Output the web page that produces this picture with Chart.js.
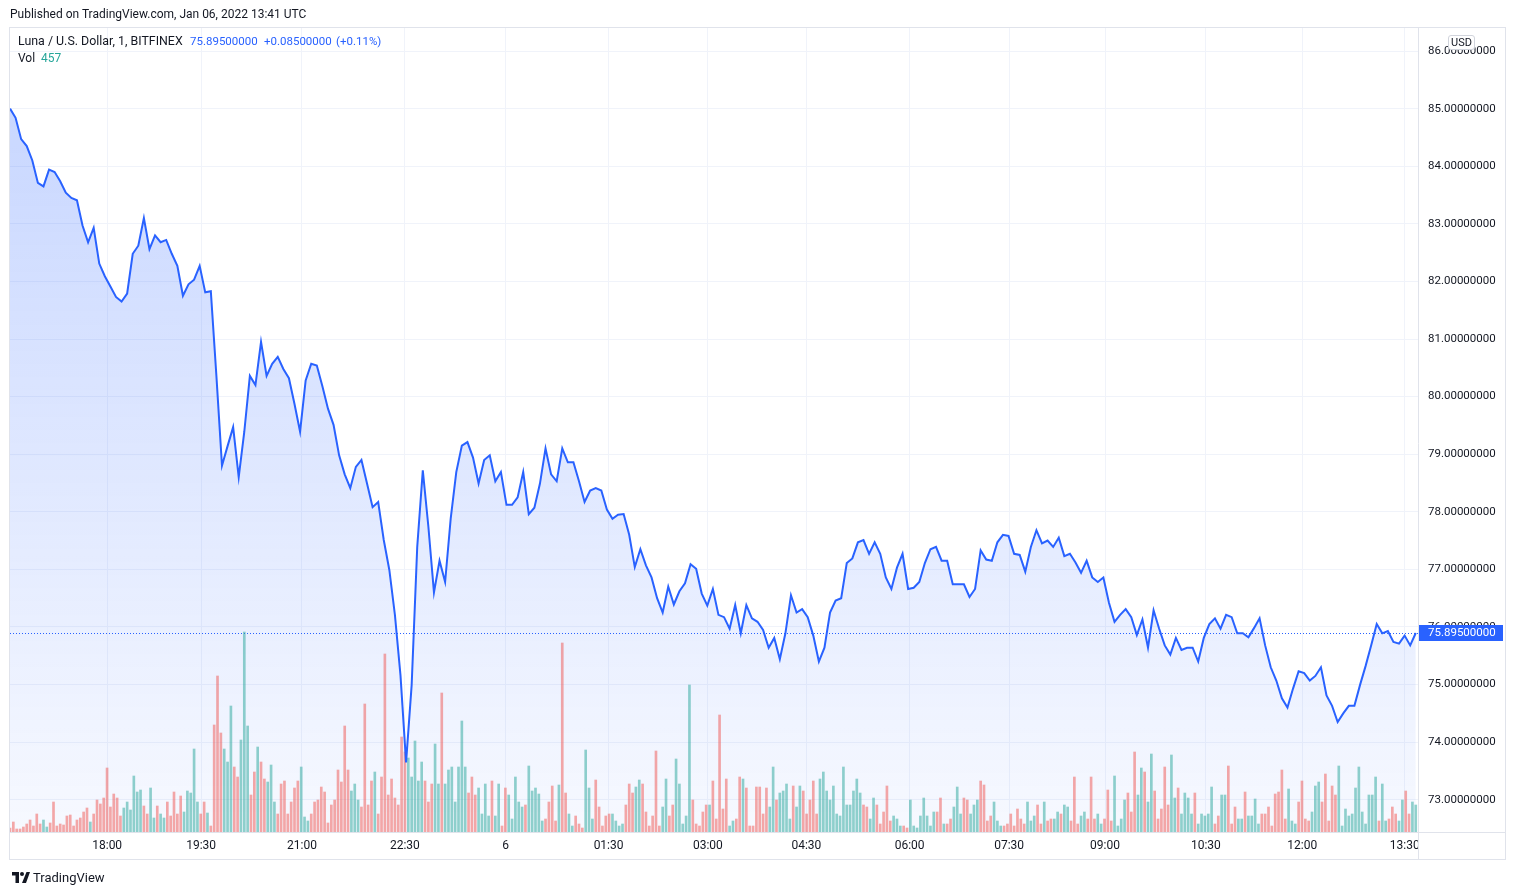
<!DOCTYPE html>
<html>
<head>
<meta charset="utf-8">
<script src="https://cdn.jsdelivr.net/npm/chart.js@4"></script>
<style>
  body { margin: 0; background: #fff; font-family: Roboto, sans-serif; color: #131722; }
  #wrap { position: relative; width: 1516px; height: 895px; overflow: hidden; }
  #graph { position: absolute; left: 0; top: 0; }
  .t { position: absolute; white-space: nowrap; font-size: 12px; line-height: 14px; }
  .q { color: #2962ff; font-size: 11.5px; }
</style>
</head>
<body>
<div id="wrap">
  <canvas id="graph" width="1516" height="895"></canvas>
  <div class="t" style="left:10px;top:7px">Published on TradingView.com, Jan 06, 2022 13:41 UTC</div>
  <div class="t" style="left:18px;top:34px;font-size:12.4px">Luna / U.S. Dollar, 1, BITFINEX</div>
  <div class="t q" id="qPrice" style="left:190px;top:34px"></div>
  <div class="t q" id="qChange" style="left:264px;top:34px"></div>
  <div class="t q" id="qPct" style="left:336px;top:34px"></div>
  <div class="t" style="left:18px;top:51px">Vol&nbsp; <span id="vol" style="color:#26a69a"></span></div>
  <div class="t" style="left:1448px;top:35px;border:1px solid #d1d4dc;border-radius:3px;padding:0 2px;background:#fff;font-size:11px;line-height:13px">USD</div>
  <div class="t" style="left:12px;top:870px;font-size:13px;line-height:15px">
    <svg width="18" height="11" viewBox="0 0 36 22" style="vertical-align:-1px"><path d="M14 22H7V7H0V0h14v22zM28 22h-8L29 0h7L28 22z" fill="#131722"/><circle cx="20" cy="4" r="4" fill="#131722"/></svg>
    TradingView
  </div>
</div>

<script>
// LUNA/USD 1 min, Bitfinex. one price every 5 bars, one volume every 3 bars (bar 0 = 16:33)
const priceStep = 5;
const volStep = 3;

const prices = [
    85.00, 84.84, 84.47, 84.35, 84.10, 83.71, 83.65, 83.94, 83.90, 83.74, 83.54, 83.45, 83.41, 82.97, 82.68, 82.93,
    82.31, 82.09, 81.91, 81.73, 81.65, 81.79, 82.48, 82.62, 83.10, 82.56, 82.80, 82.68, 82.72, 82.48, 82.27, 81.75,
    81.95, 82.03, 82.27, 81.81, 81.83, 80.36, 78.80, 79.14, 79.47, 78.60, 79.39, 80.36, 80.20, 80.95, 80.36, 80.57,
    80.69, 80.48, 80.32, 79.87, 79.39, 80.28, 80.57, 80.54, 80.18, 79.79, 79.51, 78.98, 78.65, 78.41, 78.78,
    78.90, 78.49, 78.08, 78.17, 77.51, 76.99, 76.21, 75.16, 73.65, 74.99, 77.39, 78.72, 77.74, 76.60, 77.15, 76.78,
    77.88, 78.69, 79.15, 79.21, 78.94, 78.49, 78.90, 78.98, 78.53, 78.69, 78.12, 78.12, 78.25, 78.69, 77.96, 78.07,
    78.49, 79.10, 78.65, 78.53, 79.10, 78.86, 78.86, 78.53, 78.17, 78.37, 78.41, 78.37, 78.04, 77.88, 77.95, 77.96,
    77.60, 77.04, 77.35, 77.07, 76.86, 76.50, 76.25, 76.70, 76.39, 76.62, 76.76, 77.09, 77.01, 76.58, 76.37, 76.66,
    76.21, 76.17, 75.97, 76.38, 75.89, 76.38, 76.15, 76.09, 75.95, 75.64, 75.81, 75.44, 75.89, 76.55, 76.25, 76.31,
    76.17, 75.85, 75.40, 75.64, 76.25, 76.46, 76.50, 77.11, 77.19, 77.47, 77.51, 77.27, 77.47, 77.27, 76.86,
    76.66, 77.03, 77.27, 76.66, 76.68, 76.78, 77.11, 77.35, 77.39, 77.15, 77.15, 76.74, 76.74, 76.74, 76.52, 76.66,
    77.33, 77.17, 77.15, 77.47, 77.60, 77.58, 77.27, 77.25, 76.96, 77.39, 77.68, 77.45, 77.50, 77.39, 77.55, 77.23,
    77.27, 77.12, 76.94, 77.15, 76.86, 76.78, 76.86, 76.42, 76.09, 76.21, 76.31, 76.17, 75.86, 76.13, 75.64, 76.29,
    75.97, 75.68, 75.52, 75.81, 75.60, 75.64, 75.64, 75.40, 75.81, 76.05, 76.15, 75.97, 76.21, 76.17, 75.89,
    75.89, 75.82, 75.98, 76.15, 75.68, 75.30, 75.07, 74.76, 74.60, 74.93, 75.23, 75.20, 75.07, 75.15, 75.30, 74.81,
    74.63, 74.35, 74.50, 74.63, 74.63, 74.99, 75.32, 75.68, 76.05, 75.89, 75.93, 75.74, 75.71, 75.85, 75.68, 75.895
];

const volumes = [
    4, 10, 3, 3, 5, 8, 12, 6, 18, 8, 12, 5, 9, 30, 6, 8, 7, 16, 17, 6, 12, 14, 20, 24, 10, 18, 32, 28, 34, 64,
    25, 38, 34, 16, 24, 30, 22, 56, 40, 42, 26, 18, 44, 14, 26, 18, 14, 30, 16, 40, 18, 36, 20,
    41, 39, 83, 30, 18, 30, 19, 6, 107, 156, 99, 83, 70, 126, 65, 55, 92, 200, 106, 37, 60, 85, 70, 53, 50, 67,
    30, 18, 48, 51, 18, 30, 44, 51, 65, 15, 11, 18, 30, 32, 45, 40, 9, 27, 32, 62, 50, 106, 62, 41, 48, 32, 25,
    128, 27, 51, 60, 18, 55, 178, 37, 53, 34, 27, 95, 80, 74, 55, 91, 51, 70, 51, 30, 48, 88, 48, 139, 48, 62,
    65, 30, 65, 111, 65, 39, 55, 37, 44, 18, 48, 16, 51, 16, 48, 6, 44, 37, 13, 55, 30, 25, 27, 66, 41, 44,
    38, 11, 13, 30, 46, 11, 47, 189, 39, 18, 6, 16, 8, 4, 82, 44, 13, 52, 25, 6, 16, 18, 18, 11, 6, 8, 27, 48,
    39, 45, 52, 48, 20, 6, 16, 81, 6, 25, 53, 16, 27, 73, 48, 8, 16, 147, 32, 8, 6, 20, 27, 27, 51,
    13, 117, 23, 53, 6, 11, 13, 55, 53, 44, 6, 6, 45, 45, 18, 44, 25, 65, 32, 39, 41, 48, 13, 46, 25, 46, 41,
    18, 32, 51, 18, 53, 60, 41, 32, 46, 18, 16, 65, 27, 27, 41, 53, 39, 27, 25, 13, 34, 27, 8, 20, 46,
    11, 16, 13, 6, 6, 4, 32, 6, 4, 16, 34, 16, 6, 20, 20, 34, 8, 8, 13, 25, 45, 18, 34, 32, 18, 27, 32, 51,
    47, 11, 16, 30, 11, 6, 6, 8, 18, 6, 23, 13, 8, 30, 11, 16, 27, 8, 30, 11, 13, 13, 20, 18, 27,
    25, 11, 55, 8, 16, 20, 13, 55, 13, 18, 8, 13, 42, 11, 56, 6, 13, 32, 39, 20, 80, 37, 64, 60, 30, 78,
    41, 13, 23, 65, 27, 77, 34, 44, 18, 39, 34, 18, 39, 8, 18, 16, 18, 45, 8, 16, 37, 37, 66, 8, 25, 13,
    13, 40, 16, 16, 33, 8, 18, 18, 25, 6, 38, 40, 62, 13, 43, 11, 8, 30, 51, 13, 11, 20, 46, 50, 30, 58,
    11, 46, 37, 66, 6, 23, 16, 18, 44, 65, 20, 8, 37, 37, 55, 11, 48, 11, 13, 25, 18, 11, 32, 41, 18, 30, 27
];

// bar index of each time label
const tickBars = [87.1, 171.3, 261.7, 353.9, 444.3, 536.5, 625.5, 713.8, 806.3, 895.5, 981.5, 1071.9, 1158.2, 1250.1];
const timeLabels = ["18:00", "19:30", "21:00", "22:30", "6", "01:30", "03:00", "04:30", "06:00", "07:30", "09:00", "10:30", "12:00", "13:30"];
const priceTicks = [73, 74, 75, 76, 77, 78, 79, 80, 81, 82, 83, 84, 85, 86];

const lastPrice = 75.895;
const change = 0.085;
const changePct = 0.11;
const lastVolume = 457;

document.getElementById('qPrice').textContent = lastPrice.toFixed(8);
document.getElementById('qChange').textContent = '+' + change.toFixed(8);
document.getElementById('qPct').textContent = '(+' + changePct.toFixed(2) + '%)';
document.getElementById('vol').textContent = lastVolume;

const blue = '#2962ff';
const up = 'rgba(38,166,154,0.5)';
const down = 'rgba(239,83,80,0.5)';

const volColors = volumes.map((v, i) => {
    let j = Math.min(Math.floor(i * volStep / priceStep), prices.length - 2);
    return prices[j + 1] >= prices[j] ? up : down;
});

const tvExtras = {
    id: 'tvExtras',
    beforeDatasetsDraw(chart) {
        const { ctx, chartArea: a } = chart;
        const y = Math.round(chart.scales.y.getPixelForValue(lastPrice)) + 0.5;
        ctx.save();
        ctx.strokeStyle = blue;
        ctx.lineWidth = 1;
        ctx.setLineDash([1, 2]);
        ctx.beginPath();
        ctx.moveTo(a.left, y);
        ctx.lineTo(a.right, y);
        ctx.stroke();
        ctx.restore();
    },
    afterDraw(chart) {
        const { ctx, chartArea: a } = chart;
        ctx.save();
        // time labels are cut at the price scale
        ctx.fillStyle = '#fff';
        ctx.fillRect(a.right, a.bottom + 1, 1506 - a.right, 27);

        ctx.strokeStyle = '#e0e3eb';
        ctx.lineWidth = 1;
        ctx.strokeRect(9.5, 27.5, 1496, 832);
        ctx.beginPath();
        ctx.moveTo(a.right + 0.5, 27);
        ctx.lineTo(a.right + 0.5, 860);
        ctx.moveTo(10, a.bottom + 0.5);
        ctx.lineTo(1506, a.bottom + 0.5);
        ctx.stroke();

        // last price badge
        const y = chart.scales.y.getPixelForValue(lastPrice);
        ctx.fillStyle = blue;
        ctx.fillRect(a.right + 1, Math.round(y) - 8, 84, 16);
        ctx.fillStyle = '#fff';
        ctx.font = '11.5px Roboto';
        ctx.textBaseline = 'middle';
        ctx.fillText(lastPrice.toFixed(8), a.right + 10, Math.round(y) + 0.5);
        ctx.restore();
    }
};

Chart.defaults.font.family = 'Roboto';
Chart.defaults.color = '#131722';

const graph = document.getElementById('graph');

new Chart(graph, {
    type: 'line',
    data: {
        datasets: [{
            type: 'line',
            data: prices.map((p, i) => ({ x: i * priceStep, y: p })),
            yAxisID: 'y',
            borderColor: blue,
            borderWidth: 2,
            pointRadius: 0,
            tension: 0,
            fill: 'start',
            backgroundColor: (c) => {
                const a = c.chart.chartArea;
                if (!a) return 'rgba(41,98,255,0.15)';
                const g = c.chart.ctx.createLinearGradient(0, a.top, 0, a.bottom);
                g.addColorStop(0, 'rgba(41,98,255,0.28)');
                g.addColorStop(1, 'rgba(41,98,255,0.04)');
                return g;
            },
            order: 0
        }, {
            type: 'bar',
            data: volumes.map((v, i) => ({ x: i * volStep, y: v })),
            yAxisID: 'vol',
            backgroundColor: volColors,
            barThickness: 2,
            order: 1
        }]
    },
    options: {
        responsive: false,
        animation: false,
        layout: { padding: { left: 10, top: 28, right: 10, bottom: 35 } },
        plugins: {
            legend: { display: false },
            tooltip: { enabled: false },
            filler: { drawTime: 'beforeDatasetsDraw' }
        },
        scales: {
            x: {
                type: 'linear',
                min: 0,
                max: 1262,
                offset: false,
                afterBuildTicks: (s) => { s.ticks = tickBars.map(v => ({ value: v })); },
                afterFit: (s) => { s.height = 28; },
                ticks: {
                    autoSkip: false,
                    maxRotation: 0,
                    padding: 7,
                    font: { size: 12 },
                    callback: (v, i) => timeLabels[i]
                },
                grid: { color: '#f0f3fa', drawTicks: false, offset: false },
                border: { display: false }
            },
            y: {
                position: 'right',
                min: 72.44,
                max: 86.4,
                afterBuildTicks: (s) => { s.ticks = priceTicks.map(v => ({ value: v })); },
                afterFit: (s) => { s.width = 88; },
                ticks: {
                    padding: 10,
                    font: { size: 11.5 },
                    callback: (v) => Number(v).toFixed(8)
                },
                grid: { color: '#f0f3fa', drawTicks: false },
                border: { display: false }
            },
            vol: {
                display: false,
                min: 0,
                max: 804
            }
        }
    },
    plugins: [tvExtras]
});
</script>
</body>
</html>
